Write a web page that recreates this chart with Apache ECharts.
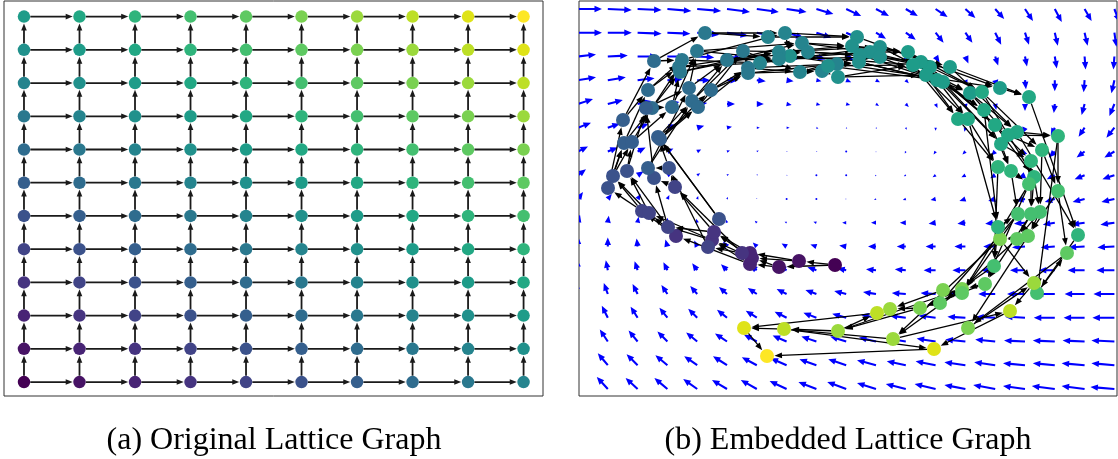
<!DOCTYPE html>
<html><head><meta charset="utf-8">
<script src="https://cdn.jsdelivr.net/npm/echarts@6/dist/echarts.min.js"></script>
<style>html,body{margin:0;padding:0;background:#fff}#chart{width:1118px;height:459px}</style>
</head><body><div id="chart"></div>
<script>
// ---------- data ----------
const latticeColumns = [0,1,2,3,4,5,6,7,8,9];
const latticeRows = [0,1,2,3,4,5,6,7,8,9,10,11];
const captions = ['(a) Original Lattice Graph', '(b) Embedded Lattice Graph'];
// viridis colour per level (i + j), 0..20
const viridis = ['#440154','#471365','#482475','#463480','#414487','#3b528b','#355f8d','#2f6c8e','#2a788e','#25848e','#21918c','#1e9c89','#22a884','#2fb47c','#44bf70','#5ec962','#7ad151','#9bd93c','#bddf26','#dfe318','#fde725'];

// embedded node positions, grouped by level (i + j)
const embeddedLevels = [
 [[25.5,13.1]],
 [[21.9,13.5],[19.9,12.9]],
 [[17.0,14.3],[17.2,13.8],[17.0,13.2]],
 [[16.2,14.3],[13.4,16.4],[13.2,15.6],[9.6,16.0]],
 [[12.8,14.9],[8.8,16.9],[9.5,20.9],[6.9,18.3],[6.2,18.5]],
 [[13.9,17.7],[8.9,22.8],[7.4,21.8],[2.8,20.8],[3.3,22.0],[4.7,22.5]],
 [[6.8,22.8],[4.4,25.3],[5.2,25.4],[7.8,25.9],[8.0,25.7],[4.3,27.6],[6.6,28.8]],
 [[7.2,28.8],[9.2,28.9],[6.8,30.6],[7.4,33.5],[11.8,28.9],[11.2,29.5],[10.9,30.8],[13.1,30.6]],
 [[10.0,32.4],[9.9,32.9],[10.2,33.6],[11.7,34.5],[12.5,36.3],[14.7,33.6],[16.8,32.3],[16.8,32.8],[16.3,34.5]],
 [[18.0,33.3],[18.8,35.9],[19.9,34.4],[19.9,33.7],[20.5,36.3],[22.0,32.4],[22.2,35.3],[22.8,34.4],[24.2,32.5],[25.7,33.2]],
 [[25.8,31.9],[27.2,35.0],[27.7,35.9],[27.9,33.4],[28.0,34.1],[30.0,34.9],[30.0,33.9],[21.0,34.0],[24.8,33.0],[29.0,34.4]],
 [[32.8,34.4],[33.3,33.1],[34.1,33.4],[34.6,32.1],[35.0,32.9],[35.7,31.6],[36.3,31.4],[37.0,32.9],[42.0,30.8],[39.0,30.3]],
 [[40.2,30.4],[37.8,27.7],[38.8,27.7],[40.4,28.6],[44.9,29.9],[41.5,27.1],[42.1,25.2],[42.8,26.1],[43.7,26.4]],
 [[46.2,24.6],[41.8,22.9],[43.1,22.5],[45.1,23.5],[47.8,26.0],[45.4,21.9],[41.8,16.9],[49.8,16.1]],
 [[44.9,21.2],[47.8,20.5],[43.8,18.2],[45.1,18.2],[46.0,18.4],[41.4,13.0],[45.7,10.3]],
 [[43.7,15.7],[44.8,16.0],[40.5,11.2],[38.2,10.3],[36.0,9.3],[48.7,14.3]],
 [[42.0,15.7],[36.3,10.6],[38.2,10.7],[34.0,8.8],[38.8,6.8]],
 [[31.0,8.7],[31.3,5.7],[25.8,6.5],[45.4,11.3]],
 [[29.7,8.3],[43.0,8.5],[20.4,6.7]],
 [[16.4,6.8],[35.4,4.7]],
 [[18.7,4.0]]
];

// vector field grid
const quiverX = [-0.2,2.78,5.76,8.74,11.72,14.7,17.68,20.66,23.64,26.62,29.6,32.58,35.56,38.54,41.52,44.5,47.48,50.46,53.44];
const quiverY = [38.7,36.33,33.95,31.58,29.2,26.83,24.45,22.08,19.7,17.33,14.95,12.58,10.2,7.83,5.45,3.08,0.7];
const fieldU = [
 [24,24,24,24,24,23,22,20,17,15,13,12,12,10,9,8,7,7,5],
 [24,24,24,23,22,21,19,17,15,13,10,10,8,7,6,4,3,3,2],
 [18,20,20,18,17,15,13,11,9,8,6,5,4,3,3,2,2,1,-1],
 [18,18,17,15,13,11,9,7,5,5,4,3,3,2,2,1,0,-1,-3],
 [15,15,14,12,10,8,7,5,4,4,3,3,2,1,1,0,-1,-3,-5],
 [13,12,11,9,7,5,3,3,2,1,1,1,0,-1,-2,-3,-4,-6,-8],
 [10,10,8,6,4,3,2,1,1,0,0,-1,-2,-3,-4,-5,-6,-8,-10],
 [8,7,6,5,3,2,1,1,0,0,-1,-2,-3,-4,-5,-7,-8,-10,-12],
 [5,4,3,2,1,1,0,0,0,-1,-2,-3,-5,-6,-7,-9,-10,-12,-13],
 [2,1,1,0,-1,-1,-2,-2,-3,-4,-5,-6,-7,-8,-10,-11,-12,-13,-14],
 [0,0,-1,-2,-3,-4,-4,-5,-6,-7,-8,-9,-10,-11,-12,-13,-14,-16,-17],
 [-1,-2,-3,-4,-5,-6,-7,-8,-9,-9,-10,-11,-12,-13,-14,-15,-16,-17,-18],
 [-3,-4,-5,-6,-7,-8,-9,-10,-11,-12,-13,-14,-15,-16,-17,-18,-19,-20,-21],
 [-5,-6,-7,-8,-9,-10,-11,-12,-13,-14,-15,-16,-17,-18,-19,-20,-21,-21,-22],
 [-7,-8,-9,-10,-11,-12,-13,-14,-15,-16,-17,-18,-19,-20,-20,-21,-22,-22,-23],
 [-9,-10,-11,-12,-13,-14,-15,-16,-17,-18,-19,-19,-20,-21,-21,-22,-22,-23,-23],
 [-10,-11,-12,-13,-14,-15,-16,-17,-18,-19,-19,-20,-21,-21,-22,-22,-23,-23,-24]
];
const fieldV = [
 [0,-1,-1,-2,-2,-3,-3,-3,-5,-7,-7,-7,-8,-9,-10,-12,-13,-12,-13],
 [0,0,-1,-1,-2,-3,-4,-5,-5,-6,-6,-7,-10,-10,-12,-12,-13,-13,-14],
 [2,1,0,0,-1,-2,-2,-3,-3,-4,-4,-5,-6,-7,-9,-10,-12,-13,-13],
 [3,3,2,1,0,0,-1,-1,-1,-2,-2,-3,-4,-5,-7,-9,-11,-12,-13],
 [5,4,3,2,1,0,0,-1,-1,-1,-2,-3,-4,-5,-6,-7,-9,-11,-12],
 [5,4,4,3,2,1,0,0,-1,-1,-1,-2,-3,-4,-5,-6,-8,-9,-10],
 [5,4,4,3,2,1,1,0,0,0,-1,-2,-3,-3,-4,-5,-6,-6,-6],
 [6,5,4,3,2,1,1,0,0,0,-1,-1,-2,-2,-3,-3,-4,-4,-4],
 [7,5,5,4,3,2,1,0,0,0,-1,-1,-1,-2,-2,-2,-3,-3,-3],
 [8,7,6,5,4,3,2,1,1,0,0,0,-1,-1,-1,-1,-2,-2,-2],
 [10,9,8,7,6,5,4,3,2,1,0,0,0,0,0,-1,-1,-1,-1],
 [11,10,9,8,7,6,5,4,3,2,1,1,0,0,0,0,0,0,0],
 [12,11,10,9,8,7,6,5,4,3,2,1,1,1,0,0,0,0,0],
 [13,12,11,10,9,8,7,6,5,4,3,2,2,1,1,1,0,0,0],
 [13,12,11,10,9,8,7,6,5,5,4,3,3,2,2,1,1,1,1],
 [13,12,11,10,9,9,8,7,6,6,5,4,4,3,3,2,2,2,2],
 [13,12,11,11,10,9,9,8,7,7,6,5,5,4,4,3,3,3,2]
];

// ---------- build ----------
const nCols = latticeColumns.length, nRows = latticeRows.length;
const key = (i, j) => i + ',' + j;

// original lattice
const latticeNodes = [], latticeEdges = [];
latticeRows.forEach(j => latticeColumns.forEach(i => {
  latticeNodes.push({ value: [i, j], itemStyle: { color: viridis[i + j], opacity: 1 } });
  if (i < nCols - 1) latticeEdges.push([i, j, i + 1, j]);
  if (j < nRows - 1) latticeEdges.push([i, j, i, j + 1]);
}));

// embedded lattice: assign (i, j) within each level, ordered by distance from ring centre
const ringCentre = [27.0, 20.6];
const embedPos = {};
embeddedLevels.forEach((pts, k) => {
  const sorted = pts.slice().sort((a, b) =>
    Math.hypot(a[0]-ringCentre[0], a[1]-ringCentre[1]) - Math.hypot(b[0]-ringCentre[0], b[1]-ringCentre[1]));
  const iMin = Math.max(0, k - (nRows - 1));
  sorted.forEach((p, idx) => { const i = iMin + idx; embedPos[key(i, k - i)] = p; });
});
const embedNodes = [], embedEdges = [];
latticeRows.forEach(j => latticeColumns.forEach(i => {
  const p = embedPos[key(i, j)];
  if (!p) return;
  embedNodes.push({ value: p, itemStyle: { color: viridis[i + j], opacity: 1 } });
  if (i < nCols - 1 && embedPos[key(i + 1, j)]) { const q = embedPos[key(i + 1, j)]; embedEdges.push([p[0], p[1], q[0], q[1]]); }
  if (j < nRows - 1 && embedPos[key(i, j + 1)]) { const q = embedPos[key(i, j + 1)]; embedEdges.push([p[0], p[1], q[0], q[1]]); }
}));

const quiverData = [];
quiverY.forEach((y, r) => quiverX.forEach((x, c) => quiverData.push([x, y, fieldU[r][c], fieldV[r][c]])));

// ---------- renderers ----------
function edgeRenderer(r, HL, HW, lw, color) {
  return function (params, api) {
    const p1 = api.coord([api.value(0), api.value(1)]);
    const p2 = api.coord([api.value(2), api.value(3)]);
    const dx = p2[0] - p1[0], dy = p2[1] - p1[1];
    const L = Math.hypot(dx, dy);
    if (L < 1e-6) return null;
    const ux = dx / L, uy = dy / L, nx = -uy, ny = ux;
    const sx = p1[0] + ux * r, sy = p1[1] + uy * r;
    const tx = p2[0] - ux * (r + 0.5), ty = p2[1] - uy * (r + 0.5);
    const avail = L - 2 * r - 0.5;
    const hl = Math.max(2, Math.min(HL, avail));
    const hw = HW * hl / HL / 2;
    const bx = tx - ux * hl, by = ty - uy * hl;
    const children = [];
    if (avail > hl) children.push({ type: 'line', shape: { x1: sx, y1: sy, x2: bx + ux, y2: by + uy }, style: { stroke: color, lineWidth: lw } });
    children.push({ type: 'polygon', shape: { points: [[tx, ty], [bx + nx * hw, by + ny * hw], [bx - nx * hw, by - ny * hw]] }, style: { fill: color } });
    return { type: 'group', children };
  };
}

function quiverRender(params, api) {
  const t = api.coord([api.value(0), api.value(1)]);
  const h = api.coord([api.value(0) + api.value(2) * 0.1, api.value(1) + api.value(3) * 0.1]);
  const dx = h[0] - t[0], dy = h[1] - t[1];
  const L = Math.hypot(dx, dy);
  const blue = '#0000ff';
  if (L < 0.3) return { type: 'circle', shape: { cx: t[0], cy: t[1], r: 1 }, style: { fill: blue } };
  const ux = dx / L, uy = dy / L, nx = -uy, ny = ux;
  const HL = 7.5, HW = 6.4, W = 2.1;
  const s = L < HL ? L / HL : 1;
  const hl = HL * s, hw = HW * s / 2, w = W * s / 2;
  const bx = h[0] - ux * hl, by = h[1] - uy * hl;
  const pts = [[t[0] + nx * w, t[1] + ny * w], [bx + nx * w, by + ny * w], [bx + nx * hw, by + ny * hw], [h[0], h[1]],
    [bx - nx * hw, by - ny * hw], [bx - nx * w, by - ny * w], [t[0] - nx * w, t[1] - ny * w]];
  return { type: 'polygon', shape: { points: pts }, style: { fill: blue } };
}

const chart = echarts.init(document.getElementById('chart'), null, { renderer: 'canvas' });
const serif = '"Liberation Serif", "DejaVu Serif", serif';
chart.setOption({
  animation: false,
  backgroundColor: '#ffffff',
  grid: [
    { left: 4, top: 1, width: 539, height: 395, show: true, borderColor: '#333', borderWidth: 1, backgroundColor: 'transparent' },
    { left: 579, top: 1, width: 538, height: 395, show: true, borderColor: '#333', borderWidth: 1, backgroundColor: 'transparent' }
  ],
  xAxis: [
    { gridIndex: 0, type: 'value', min: -0.36, max: 9.35, show: false },
    { gridIndex: 1, type: 'value', min: -0.1, max: 53.7, show: false }
  ],
  yAxis: [
    { gridIndex: 0, type: 'value', min: -0.42, max: 11.47, show: false },
    { gridIndex: 1, type: 'value', min: 0, max: 39.5, show: false }
  ],
  graphic: [
    { type: 'text', x: 274, y: 441, style: { text: captions[0], font: '32px ' + serif, fill: '#000', align: 'center', verticalAlign: 'middle' } },
    { type: 'text', x: 848, y: 441, style: { text: captions[1], font: '32px ' + serif, fill: '#000', align: 'center', verticalAlign: 'middle' } }
  ],
  series: [
    { type: 'custom', xAxisIndex: 0, yAxisIndex: 0, z: 2, silent: true, clip: true,
      renderItem: edgeRenderer(6.3, 7, 5.6, 1.8, '#1a1a1a'), data: latticeEdges, encode: { x: [0, 2], y: [1, 3] } },
    { type: 'scatter', xAxisIndex: 0, yAxisIndex: 0, z: 3, silent: true, symbolSize: 12.5, itemStyle: { opacity: 1 }, data: latticeNodes },
    { type: 'custom', xAxisIndex: 1, yAxisIndex: 1, z: 1, silent: true, clip: true,
      renderItem: quiverRender, data: quiverData, encode: { x: 0, y: 1 } },
    { type: 'custom', xAxisIndex: 1, yAxisIndex: 1, z: 2, silent: true, clip: true,
      renderItem: edgeRenderer(7, 7.5, 5.8, 1.3, '#000'), data: embedEdges, encode: { x: [0, 2], y: [1, 3] } },
    { type: 'scatter', xAxisIndex: 1, yAxisIndex: 1, z: 3, silent: true, symbolSize: 14, itemStyle: { opacity: 1 }, data: embedNodes }
  ]
});
</script>
</body></html>
